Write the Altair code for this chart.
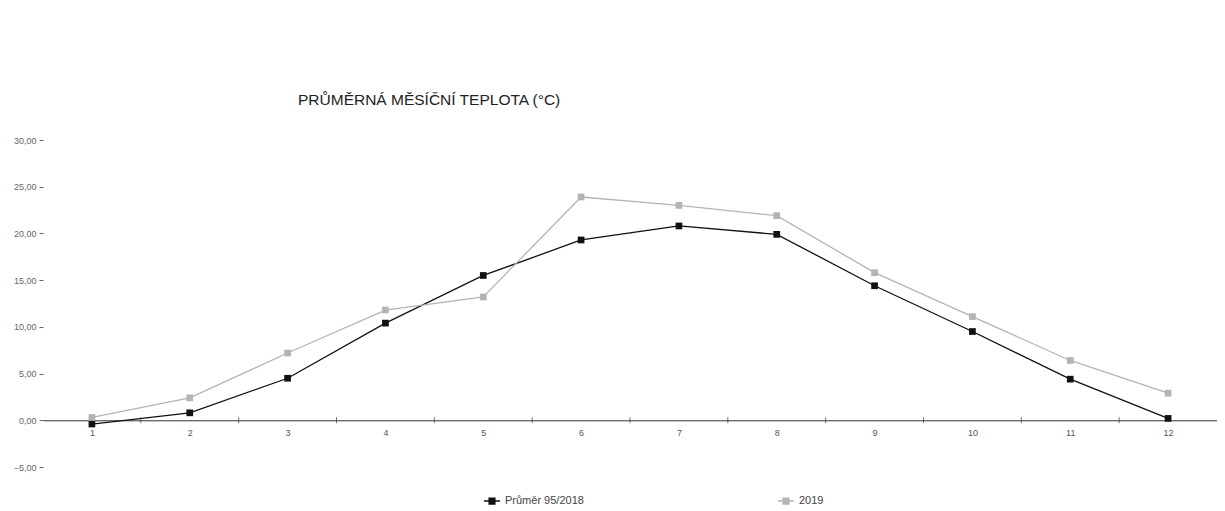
import altair as alt
import pandas as pd

months = list(range(1, 13))
series_names = ["Průměr 95/2018", "2019"]
avg_95_2018 = [-0.4, 0.8, 4.5, 10.4, 15.5, 19.3, 20.8, 19.9, 14.4, 9.5, 4.4, 0.2]
temp_2019 = [0.3, 2.4, 7.2, 11.8, 13.2, 23.9, 23.0, 21.9, 15.8, 11.1, 6.4, 2.9]
y_ticks = [-5, 0, 5, 10, 15, 20, 25, 30]
between_ticks = [1.5, 2.5, 3.5, 4.5, 5.5, 6.5, 7.5, 8.5, 9.5, 10.5, 11.5]

rows = []
for m, v in zip(months, avg_95_2018):
    rows.append({"mesic": m, "teplota": v, "rada": series_names[0]})
for m, v in zip(months, temp_2019):
    rows.append({"mesic": m, "teplota": v, "rada": series_names[1]})
df = pd.DataFrame(rows)
ticks_df = pd.DataFrame({"x": between_ticks, "y": [0] * len(between_ticks)})

W = 1174
H = 327
YMIN, YMAX = -5, 30
FONT = "Liberation Sans"

xscale = alt.Scale(domain=[0.5, 12.5], nice=False, zero=False)
yscale = alt.Scale(domain=[YMIN, YMAX], nice=False, zero=False)
color = alt.Color(
    "rada:N",
    scale=alt.Scale(domain=series_names, range=["#111111", "#b4b4b4"]),
    sort=series_names,
    legend=alt.Legend(
        title=None,
        orient="none",
        legendX=440,
        legendY=352,
        direction="horizontal",
        columnPadding=190,
        labelFontSize=11,
        labelFont=FONT,
        labelColor="#444444",
        symbolType="M-1,0H1M-0.35,-0.35H0.35V0.35H-0.35Z",
        symbolSize=260,
        symbolStrokeWidth=1.5,
    ),
)

x_enc = alt.X(
    "mesic:Q",
    scale=xscale,
    axis=alt.Axis(
        title=None,
        values=months,
        format="d",
        ticks=False,
        grid=False,
        domainColor="#333333",
        domainWidth=1,
        labelFontSize=9,
        labelFont=FONT,
        labelColor="#555555",
        labelPadding=8,
        offset=-H * (0 - YMIN) / (YMAX - YMIN),
    ),
)
y_enc = alt.Y(
    "teplota:Q",
    scale=yscale,
    axis=alt.Axis(
        title=None,
        values=y_ticks,
        format=".2f",
        labelExpr="replace(datum.label, '.', ',')",
        grid=False,
        domain=False,
        ticks=True,
        tickSize=4,
        tickWidth=1,
        tickColor="#666666",
        labelFontSize=9,
        labelFont=FONT,
        labelColor="#666666",
        labelPadding=3,
    ),
)

lines = alt.Chart(df).mark_line(strokeWidth=1.3).encode(x=x_enc, y=y_enc, color=color)
points = alt.Chart(df).mark_point(shape="square", filled=True, size=45, opacity=1).encode(
    x=alt.X("mesic:Q", scale=xscale),
    y=alt.Y("teplota:Q", scale=yscale),
    color=color,
)
cat_ticks = alt.Chart(ticks_df).mark_tick(orient="vertical", size=6, thickness=1, color="#333333").encode(
    x=alt.X("x:Q", scale=xscale), y=alt.Y("y:Q", scale=yscale)
)

chart = (
    alt.layer(lines, points, cat_ticks)
    .properties(
        width=W,
        height=H,
        background="white",
        autosize=alt.AutoSizeParams(type="none"),
        padding={"left": 35, "top": 132, "right": 0, "bottom": 44},
        title=alt.TitleParams(
            text="PRŮMĚRNÁ MĚSÍČNÍ TEPLOTA (°C)",
            anchor="start",
            frame="group",
            dx=255,
            offset=28,
            fontSize=15.5,
            font=FONT,
            fontWeight="normal",
            color="#222222",
        ),
    )
    .configure_view(strokeWidth=0, stroke="transparent")
    .configure_axis(grid=False)
)

chart.save("out.html", embed_options={"renderer": "svg", "actions": False})
